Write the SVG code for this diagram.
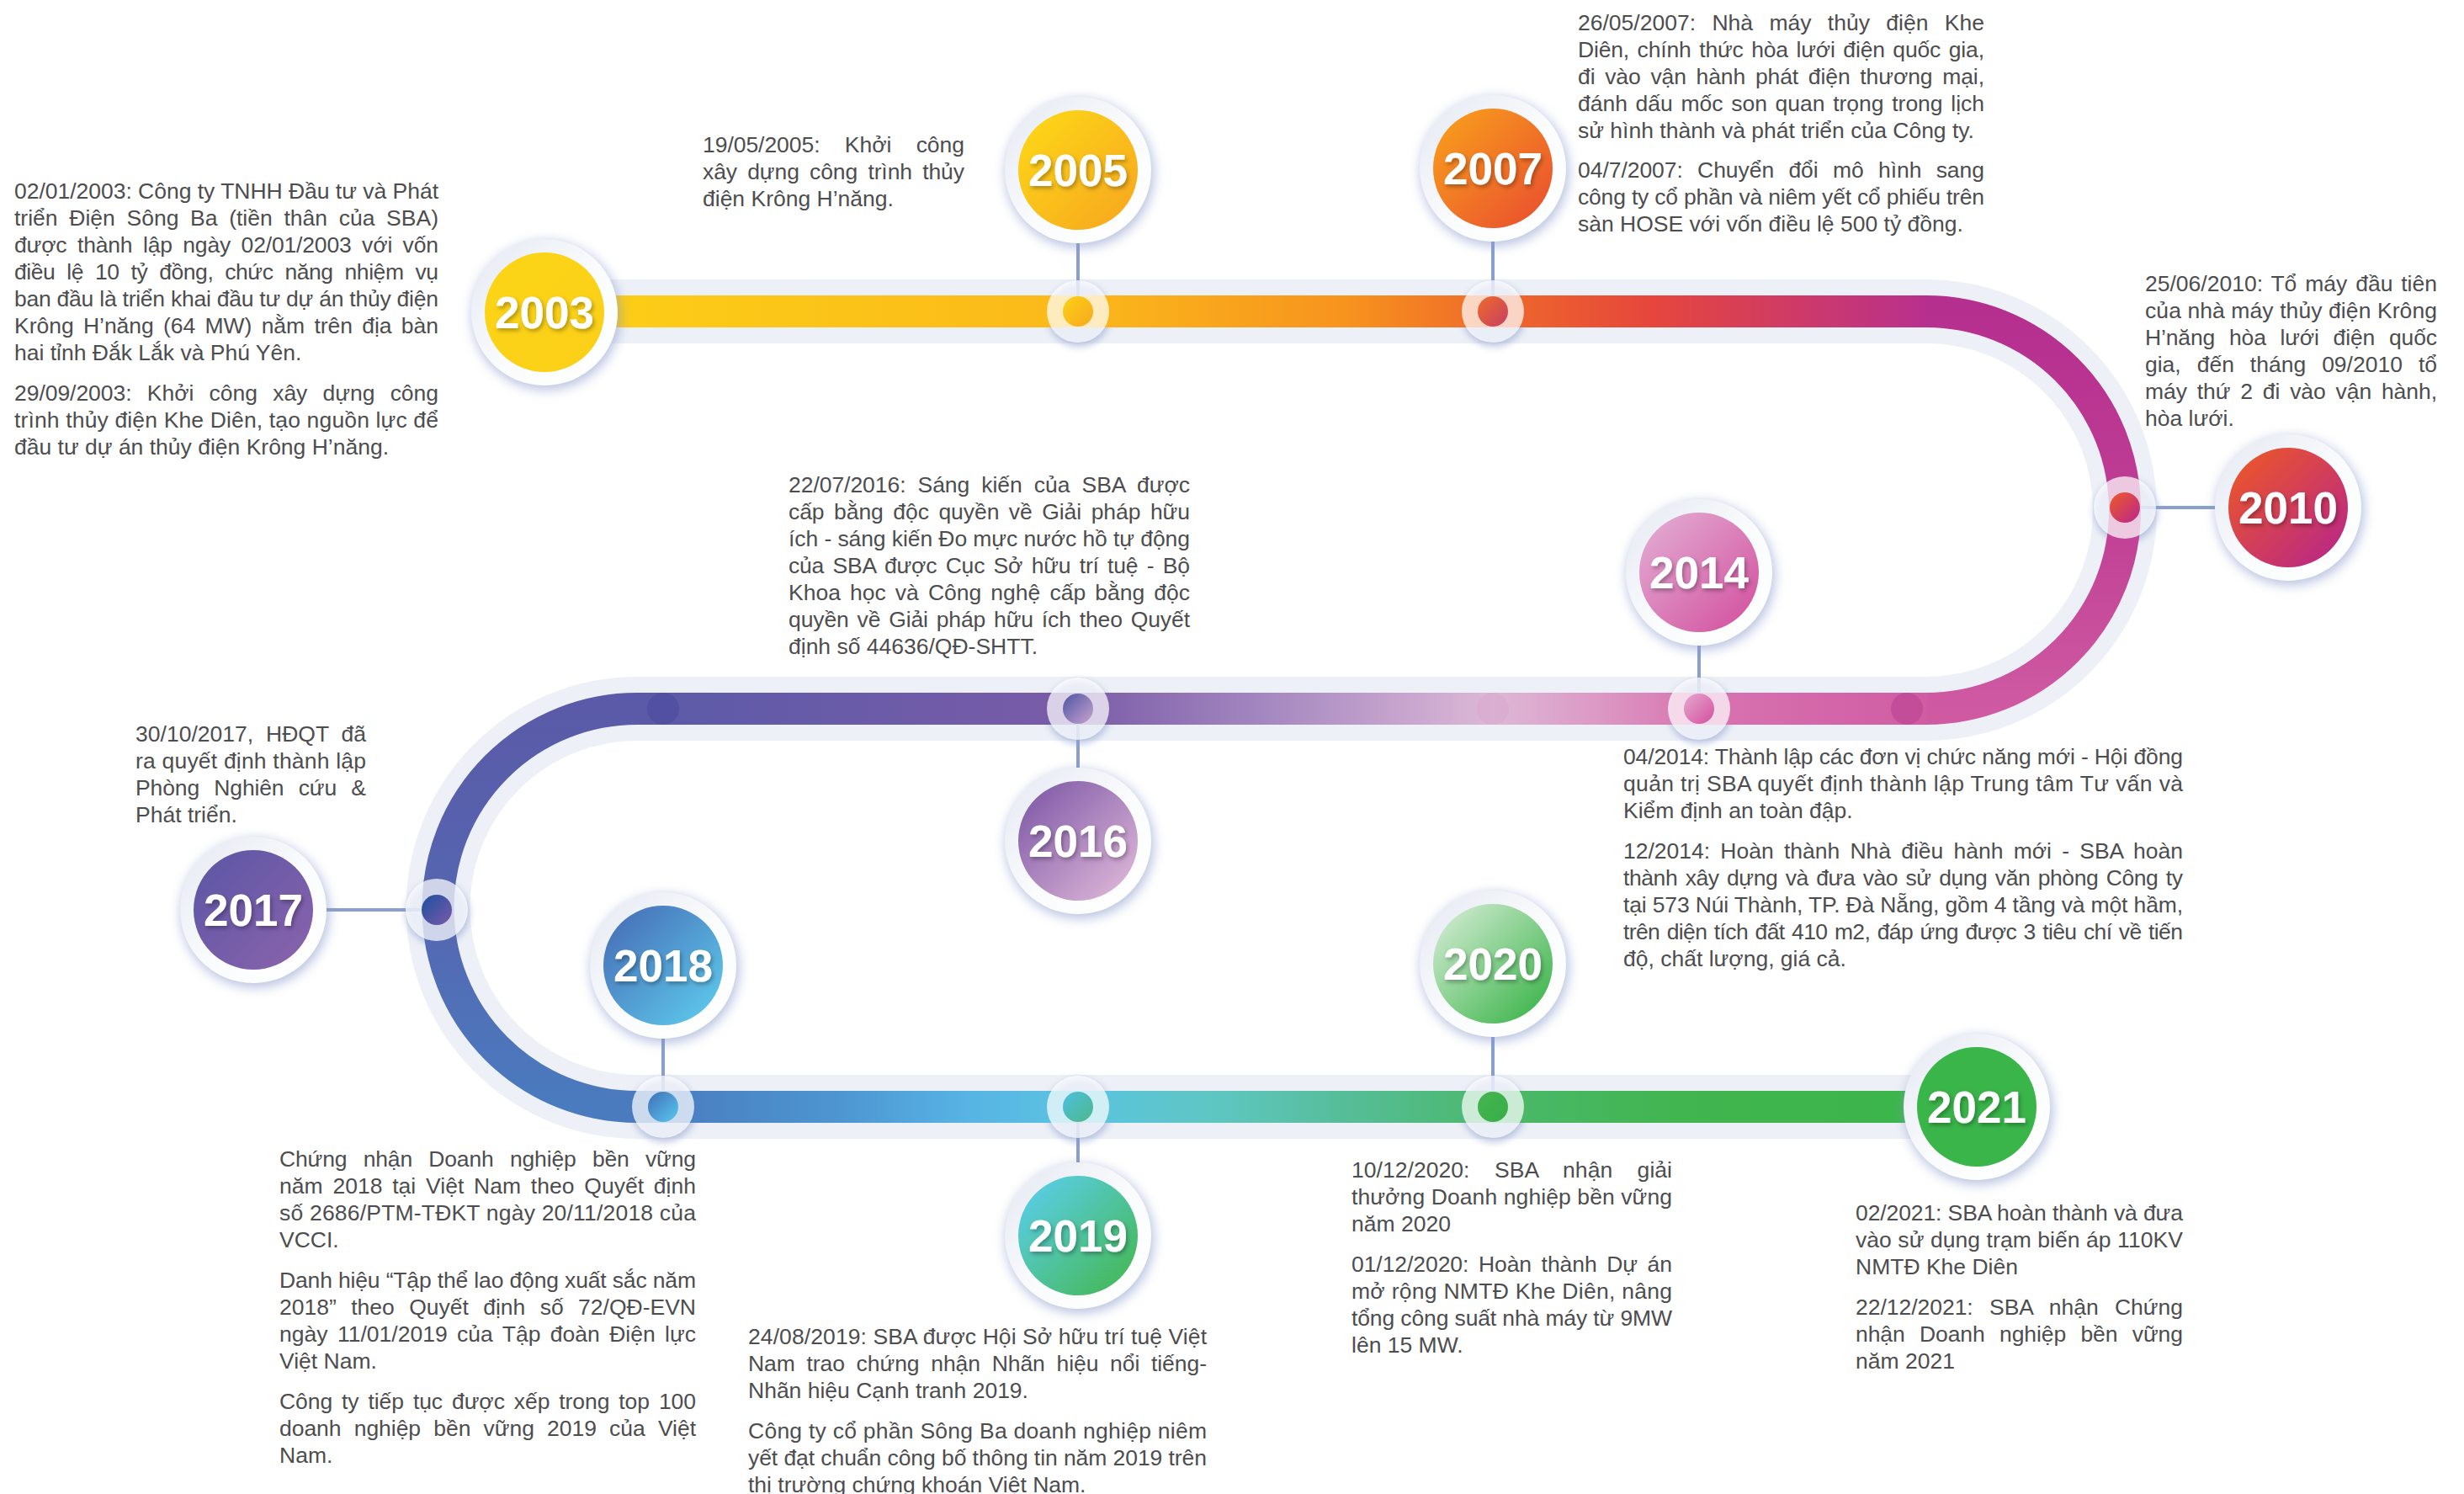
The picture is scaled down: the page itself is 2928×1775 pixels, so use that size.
<svg xmlns="http://www.w3.org/2000/svg" width="2928" height="1775" viewBox="0 0 2928 1775">
<defs>
<style>
.d{font-family:"Liberation Sans",Arial,sans-serif;font-size:26.5px;fill:#4d4d4f}
.y{font-family:"Liberation Sans",Arial,sans-serif;font-size:53px;font-weight:bold;fill:#fff;text-anchor:middle}
.cn{stroke:#8a9fcd;stroke-width:4;fill:none}
.ring{fill:url(#gRing)}
.nsh{fill:#8799cb;opacity:.6}
.dsh{fill:#8799cb;opacity:.55}
.dring{fill:#fff;fill-opacity:.72}
.halo{fill:none;stroke:#edf1f7;stroke-width:76}
.trk{fill:none;stroke-width:38}
</style>
<filter id="blur" x="-40%" y="-40%" width="180%" height="180%"><feGaussianBlur stdDeviation="7"/></filter>
<filter id="blur2" x="-50%" y="-50%" width="200%" height="200%"><feGaussianBlur stdDeviation="4"/></filter>
<filter id="tsh" x="-20%" y="-30%" width="140%" height="170%"><feDropShadow dx="2" dy="3" stdDeviation="2.5" flood-color="#000" flood-opacity=".3"/></filter>
<linearGradient id="gRing" x1="0" y1="0" x2="1" y2="1"><stop offset="0" stop-color="#e4e9f2"/><stop offset=".55" stop-color="#fbfcfd"/><stop offset="1" stop-color="#ffffff"/></linearGradient>
<linearGradient id="t1" gradientUnits="userSpaceOnUse" x1="647" y1="0" x2="2290" y2="0"><stop offset="0" stop-color="#fcd016"/><stop offset=".386" stop-color="#fbb91a"/><stop offset=".58" stop-color="#f7931e"/><stop offset=".686" stop-color="#ef6a2a"/><stop offset=".8" stop-color="#e6463c"/><stop offset="1" stop-color="#b8308e"/></linearGradient>
<linearGradient id="t2" gradientUnits="userSpaceOnUse" x1="0" y1="370" x2="0" y2="842"><stop offset="0" stop-color="#b52f8f"/><stop offset=".5" stop-color="#bf3e94"/><stop offset="1" stop-color="#cf5aa2"/></linearGradient>
<linearGradient id="t3" gradientUnits="userSpaceOnUse" x1="757" y1="0" x2="2290" y2="0"><stop offset="0" stop-color="#5a5aa8"/><stop offset=".342" stop-color="#7a5ca8"/><stop offset=".485" stop-color="#a487c0"/><stop offset=".664" stop-color="#ddb8d6"/><stop offset=".746" stop-color="#dc98c4"/><stop offset=".823" stop-color="#d874b0"/><stop offset="1" stop-color="#d05ca3"/></linearGradient>
<linearGradient id="t4" gradientUnits="userSpaceOnUse" x1="0" y1="842" x2="0" y2="1315"><stop offset="0" stop-color="#5a5aa8"/><stop offset=".5" stop-color="#5566b0"/><stop offset="1" stop-color="#4a7bbf"/></linearGradient>
<linearGradient id="t5" gradientUnits="userSpaceOnUse" x1="757" y1="0" x2="2349" y2="0"><stop offset="0" stop-color="#4a79be"/><stop offset=".153" stop-color="#4d96d2"/><stop offset=".247" stop-color="#57b4e4"/><stop offset=".33" stop-color="#5bc4e0"/><stop offset=".436" stop-color="#5ec6c0"/><stop offset=".53" stop-color="#56bd98"/><stop offset=".639" stop-color="#4bb86c"/><stop offset=".78" stop-color="#41b54f"/><stop offset="1" stop-color="#3ab54a"/></linearGradient>
<linearGradient id="g2003" x1="0" y1="0" x2="1" y2="1"><stop offset="0" stop-color="#fcd516"/><stop offset="1" stop-color="#fbcf18"/></linearGradient>
<linearGradient id="g2005" x1="0" y1="0" x2="1" y2="1"><stop offset="0" stop-color="#fdda17"/><stop offset="1" stop-color="#f7a51f"/></linearGradient>
<linearGradient id="g2007" x1="0" y1="0" x2="1" y2="1"><stop offset="0" stop-color="#f9a31b"/><stop offset="1" stop-color="#e94a30"/></linearGradient>
<linearGradient id="g2010" x1="0" y1="0" x2="1" y2="1"><stop offset="0" stop-color="#f05a22"/><stop offset="1" stop-color="#b5238f"/></linearGradient>
<linearGradient id="g2014" x1="0" y1="0" x2="1" y2="1"><stop offset="0" stop-color="#e3b2d6"/><stop offset="1" stop-color="#d24c9c"/></linearGradient>
<linearGradient id="g2016" x1="0" y1="0" x2="1" y2="1"><stop offset="0" stop-color="#7853a3"/><stop offset="1" stop-color="#e5bedc"/></linearGradient>
<linearGradient id="g2017" x1="0" y1="0" x2="1" y2="1"><stop offset="0" stop-color="#5a56a5"/><stop offset="1" stop-color="#8c63ac"/></linearGradient>
<linearGradient id="g2018" x1="0" y1="0" x2="1" y2="1"><stop offset="0" stop-color="#4568b3"/><stop offset="1" stop-color="#5fd0f0"/></linearGradient>
<linearGradient id="g2019" x1="0" y1="0" x2="1" y2="1"><stop offset="0" stop-color="#5bd0f5"/><stop offset="1" stop-color="#43b649"/></linearGradient>
<linearGradient id="g2020" x1="0" y1="0" x2="1" y2="1"><stop offset="0" stop-color="#dcefdb"/><stop offset="1" stop-color="#30b040"/></linearGradient>
<linearGradient id="g2021" x1="0" y1="0" x2="1" y2="1"><stop offset="0" stop-color="#3ab54a"/><stop offset="1" stop-color="#3ab54a"/></linearGradient>
<linearGradient id="d2005" x1="0" y1="0" x2="1" y2="1"><stop offset="0" stop-color="#fcd116"/><stop offset="1" stop-color="#f7a81f"/></linearGradient>
<linearGradient id="d2007" x1="0" y1="0" x2="1" y2="1"><stop offset="0" stop-color="#ef6a2c"/><stop offset="1" stop-color="#c64060"/></linearGradient>
<linearGradient id="d2010" x1="0" y1="0" x2="1" y2="1"><stop offset="0" stop-color="#f05a24"/><stop offset="1" stop-color="#b8268f"/></linearGradient>
<linearGradient id="d2014" x1="0" y1="0" x2="1" y2="1"><stop offset="0" stop-color="#e6a8cf"/><stop offset="1" stop-color="#d4509f"/></linearGradient>
<linearGradient id="d2016" x1="0" y1="0" x2="1" y2="1"><stop offset="0" stop-color="#4d55a3"/><stop offset="1" stop-color="#c9a3cf"/></linearGradient>
<linearGradient id="d2017" x1="0" y1="0" x2="1" y2="1"><stop offset="0" stop-color="#1b4fa0"/><stop offset="1" stop-color="#7b5aa8"/></linearGradient>
<linearGradient id="d2018" x1="0" y1="0" x2="1" y2="1"><stop offset="0" stop-color="#3f6fb8"/><stop offset="1" stop-color="#5bc8ef"/></linearGradient>
<linearGradient id="d2019" x1="0" y1="0" x2="1" y2="1"><stop offset="0" stop-color="#4cc0e0"/><stop offset="1" stop-color="#4db88a"/></linearGradient>
<linearGradient id="d2020" x1="0" y1="0" x2="1" y2="1"><stop offset="0" stop-color="#44b452"/><stop offset="1" stop-color="#38ae46"/></linearGradient>
</defs>
<rect width="2928" height="1775" fill="#ffffff"/>

<g id="track">
<path class="halo" d="M647 370 H2289 A236 236 0 0 1 2289 842 H757 A236 236 0 0 0 757 1315 H2349"/>
<circle class="dsh" cx="1282" cy="374" r="38" filter="url(#blur2)"/>
<circle class="dsh" cx="1775" cy="374" r="38" filter="url(#blur2)"/>
<circle class="dsh" cx="2526" cy="607" r="38" filter="url(#blur2)"/>
<circle class="dsh" cx="2020" cy="846" r="38" filter="url(#blur2)"/>
<circle class="dsh" cx="1282" cy="846" r="38" filter="url(#blur2)"/>
<circle class="dsh" cx="520" cy="1085" r="38" filter="url(#blur2)"/>
<circle class="dsh" cx="789" cy="1319" r="38" filter="url(#blur2)"/>
<circle class="dsh" cx="1282" cy="1319" r="38" filter="url(#blur2)"/>
<circle class="dsh" cx="1775" cy="1319" r="38" filter="url(#blur2)"/>
<path class="trk" stroke="url(#t1)" d="M647 370 H2290"/>
<path class="trk" stroke="url(#t2)" d="M2289 370 A236 236 0 0 1 2289 842"/>
<path class="trk" stroke="url(#t3)" d="M2290 842 H756"/>
<path class="trk" stroke="url(#t4)" d="M757 842 A236 236 0 0 0 757 1315"/>
<path class="trk" stroke="url(#t5)" d="M756 1315 H2349"/>
<circle cx="2266" cy="842" r="19" fill="#bf4796" opacity=".75"/>
<circle cx="1774" cy="842" r="19" fill="#d7a5cc" opacity=".5"/>
<circle cx="788" cy="842" r="19" fill="#4b4a9e" opacity=".6"/>
</g>

<g id="connectors">
<line class="cn" x1="1281" y1="289" x2="1281" y2="370"/>
<line class="cn" x1="1774" y1="287" x2="1774" y2="370"/>
<line class="cn" x1="2525" y1="603" x2="2632" y2="603"/>
<line class="cn" x1="2019" y1="767" x2="2019" y2="842"/>
<line class="cn" x1="1281" y1="842" x2="1281" y2="912"/>
<line class="cn" x1="388" y1="1081" x2="519" y2="1081"/>
<line class="cn" x1="788" y1="1234" x2="788" y2="1315"/>
<line class="cn" x1="1281" y1="1315" x2="1281" y2="1381"/>
<line class="cn" x1="1774" y1="1232" x2="1774" y2="1315"/>
</g>

<g id="node-2003">
<circle class="nsh" cx="649" cy="375" r="88" filter="url(#blur)"/>
<circle class="ring" cx="647" cy="371" r="87"/>
<circle cx="647" cy="371" r="71" fill="url(#g2003)"/>
<text class="y" x="647" y="390" filter="url(#tsh)">2003</text>
</g>
<g id="text-2003">
<text class="d" x="17" y="236" textLength="504" lengthAdjust="spacing">02/01/2003: Công ty TNHH Đầu tư và Phát</text>
<text class="d" x="17" y="268" word-spacing="6.3" textLength="504" lengthAdjust="spacing">triển Điện Sông Ba (tiền thân của SBA)</text>
<text class="d" x="17" y="300" word-spacing="5.3" textLength="504" lengthAdjust="spacing">được thành lập ngày 02/01/2003 với vốn</text>
<text class="d" x="17" y="332" word-spacing="7" textLength="504" lengthAdjust="spacing">điều lệ 10 tỷ đồng, chức năng nhiệm vụ</text>
<text class="d" x="17" y="364" textLength="504" lengthAdjust="spacing">ban đầu là triển khai đầu tư dự án thủy điện</text>
<text class="d" x="17" y="396" word-spacing="3.9" textLength="504" lengthAdjust="spacing">Krông H’năng (64 MW) nằm trên địa bàn</text>
<text class="d" x="17" y="428">hai tỉnh Đắk Lắk và Phú Yên.</text>
<text class="d" x="17" y="476" word-spacing="11" textLength="504" lengthAdjust="spacing">29/09/2003: Khởi công xây dựng công</text>
<text class="d" x="17" y="508" textLength="504" lengthAdjust="spacing">trình thủy điện Khe Diên, tạo nguồn lực để</text>
<text class="d" x="17" y="540">đầu tư dự án thủy điện Krông H’năng.</text>
</g>

<g id="node-2005">
<circle class="nsh" cx="1283" cy="206" r="88" filter="url(#blur)"/>
<circle class="ring" cx="1281" cy="202" r="87"/>
<circle cx="1281" cy="202" r="71" fill="url(#g2005)"/>
<text class="y" x="1281" y="221" filter="url(#tsh)">2005</text>
<circle class="dring" cx="1281" cy="370" r="37"/>
<circle cx="1281" cy="370" r="18" fill="url(#d2005)"/>
</g>
<g id="text-2005">
<text class="d" x="835" y="181" word-spacing="22" textLength="311" lengthAdjust="spacing">19/05/2005: Khởi công</text>
<text class="d" x="835" y="213" word-spacing="5" textLength="311" lengthAdjust="spacing">xây dựng công trình thủy</text>
<text class="d" x="835" y="245">điện Krông H’năng.</text>
</g>

<g id="node-2007">
<circle class="nsh" cx="1776" cy="204" r="88" filter="url(#blur)"/>
<circle class="ring" cx="1774" cy="200" r="87"/>
<circle cx="1774" cy="200" r="71" fill="url(#g2007)"/>
<text class="y" x="1774" y="219" filter="url(#tsh)">2007</text>
<circle class="dring" cx="1774" cy="370" r="37"/>
<circle cx="1774" cy="370" r="18" fill="url(#d2007)"/>
</g>
<g id="text-2007">
<text class="d" x="1875" y="36" word-spacing="12" textLength="483" lengthAdjust="spacing">26/05/2007: Nhà máy thủy điện Khe</text>
<text class="d" x="1875" y="68" word-spacing="2.4" textLength="483" lengthAdjust="spacing">Diên, chính thức hòa lưới điện quốc gia,</text>
<text class="d" x="1875" y="100" word-spacing="4.5" textLength="483" lengthAdjust="spacing">đi vào vận hành phát điện thương mại,</text>
<text class="d" x="1875" y="132" word-spacing="2.3" textLength="483" lengthAdjust="spacing">đánh dấu mốc son quan trọng trong lịch</text>
<text class="d" x="1875" y="164">sử hình thành và phát triển của Công ty.</text>
<text class="d" x="1875" y="211" word-spacing="10" textLength="483" lengthAdjust="spacing">04/7/2007: Chuyển đổi mô hình sang</text>
<text class="d" x="1875" y="243" textLength="483" lengthAdjust="spacing">công ty cổ phần và niêm yết cổ phiếu trên</text>
<text class="d" x="1875" y="275">sàn HOSE với vốn điều lệ 500 tỷ đồng.</text>
</g>

<g id="node-2010">
<circle class="nsh" cx="2721" cy="607" r="88" filter="url(#blur)"/>
<circle class="ring" cx="2719" cy="603" r="87"/>
<circle cx="2719" cy="603" r="71" fill="url(#g2010)"/>
<text class="y" x="2719" y="622" filter="url(#tsh)">2010</text>
<circle class="dring" cx="2525" cy="603" r="37"/>
<circle cx="2525" cy="603" r="18" fill="url(#d2010)"/>
</g>
<g id="text-2010">
<text class="d" x="2549" y="346" word-spacing="2.5" textLength="347" lengthAdjust="spacing">25/06/2010: Tổ máy đầu tiên</text>
<text class="d" x="2549" y="378" textLength="347" lengthAdjust="spacing">của nhà máy thủy điện Krông</text>
<text class="d" x="2549" y="410" word-spacing="9.5" textLength="347" lengthAdjust="spacing">H’năng hòa lưới điện quốc</text>
<text class="d" x="2549" y="442" word-spacing="11.6" textLength="347" lengthAdjust="spacing">gia, đến tháng 09/2010 tổ</text>
<text class="d" x="2549" y="474" word-spacing="4.6" textLength="347" lengthAdjust="spacing">máy thứ 2 đi vào vận hành,</text>
<text class="d" x="2549" y="506">hòa lưới.</text>
</g>

<g id="node-2014">
<circle class="nsh" cx="2021" cy="684" r="88" filter="url(#blur)"/>
<circle class="ring" cx="2019" cy="680" r="87"/>
<circle cx="2019" cy="680" r="71" fill="url(#g2014)"/>
<text class="y" x="2019" y="699" filter="url(#tsh)">2014</text>
<circle class="dring" cx="2019" cy="842" r="37"/>
<circle cx="2019" cy="842" r="18" fill="url(#d2014)"/>
</g>
<g id="text-2014">
<text class="d" x="1929" y="908" textLength="665" lengthAdjust="spacing">04/2014: Thành lập các đơn vị chức năng mới - Hội đồng</text>
<text class="d" x="1929" y="940" textLength="665" lengthAdjust="spacing">quản trị SBA quyết định thành lập Trung tâm Tư vấn và</text>
<text class="d" x="1929" y="972">Kiểm định an toàn đập.</text>
<text class="d" x="1929" y="1020" word-spacing="4.9" textLength="665" lengthAdjust="spacing">12/2014: Hoàn thành Nhà điều hành mới - SBA hoàn</text>
<text class="d" x="1929" y="1052" word-spacing="2.5" textLength="665" lengthAdjust="spacing">thành xây dựng và đưa vào sử dụng văn phòng Công ty</text>
<text class="d" x="1929" y="1084" textLength="665" lengthAdjust="spacing">tại 573 Núi Thành, TP. Đà Nẵng, gồm 4 tầng và một hầm,</text>
<text class="d" x="1929" y="1116" word-spacing="1.7" textLength="665" lengthAdjust="spacing">trên diện tích đất 410 m2, đáp ứng được 3 tiêu chí về tiến</text>
<text class="d" x="1929" y="1148">độ, chất lượng, giá cả.</text>
</g>

<g id="node-2016">
<circle class="nsh" cx="1283" cy="1003" r="88" filter="url(#blur)"/>
<circle class="ring" cx="1281" cy="999" r="87"/>
<circle cx="1281" cy="999" r="71" fill="url(#g2016)"/>
<text class="y" x="1281" y="1018" filter="url(#tsh)">2016</text>
<circle class="dring" cx="1281" cy="842" r="37"/>
<circle cx="1281" cy="842" r="18" fill="url(#d2016)"/>
</g>
<g id="text-2016">
<text class="d" x="937" y="585" word-spacing="6.8" textLength="477" lengthAdjust="spacing">22/07/2016: Sáng kiến của SBA được</text>
<text class="d" x="937" y="617" word-spacing="4.2" textLength="477" lengthAdjust="spacing">cấp bằng độc quyền về Giải pháp hữu</text>
<text class="d" x="937" y="649" textLength="477" lengthAdjust="spacing">ích - sáng kiến Đo mực nước hồ tự động</text>
<text class="d" x="937" y="681" word-spacing="3.2" textLength="477" lengthAdjust="spacing">của SBA được Cục Sở hữu trí tuệ - Bộ</text>
<text class="d" x="937" y="713" word-spacing="3.7" textLength="477" lengthAdjust="spacing">Khoa học và Công nghệ cấp bằng độc</text>
<text class="d" x="937" y="745" word-spacing="2.6" textLength="477" lengthAdjust="spacing">quyền về Giải pháp hữu ích theo Quyết</text>
<text class="d" x="937" y="777">định số 44636/QĐ-SHTT.</text>
</g>

<g id="node-2017">
<circle class="nsh" cx="303" cy="1085" r="88" filter="url(#blur)"/>
<circle class="ring" cx="301" cy="1081" r="87"/>
<circle cx="301" cy="1081" r="71" fill="url(#g2017)"/>
<text class="y" x="301" y="1100" filter="url(#tsh)">2017</text>
<circle class="dring" cx="519" cy="1081" r="37"/>
<circle cx="519" cy="1081" r="18" fill="url(#d2017)"/>
</g>
<g id="text-2017">
<text class="d" x="161" y="881" word-spacing="7.5" textLength="274" lengthAdjust="spacing">30/10/2017, HĐQT đã</text>
<text class="d" x="161" y="913" textLength="274" lengthAdjust="spacing">ra quyết định thành lập</text>
<text class="d" x="161" y="945" word-spacing="10" textLength="274" lengthAdjust="spacing">Phòng Nghiên cứu &amp;</text>
<text class="d" x="161" y="977">Phát triển.</text>
</g>

<g id="node-2018">
<circle class="nsh" cx="790" cy="1151" r="88" filter="url(#blur)"/>
<circle class="ring" cx="788" cy="1147" r="87"/>
<circle cx="788" cy="1147" r="71" fill="url(#g2018)"/>
<text class="y" x="788" y="1166" filter="url(#tsh)">2018</text>
<circle class="dring" cx="788" cy="1315" r="37"/>
<circle cx="788" cy="1315" r="18" fill="url(#d2018)"/>
</g>
<g id="text-2018">
<text class="d" x="332" y="1386" word-spacing="12" textLength="495" lengthAdjust="spacing">Chứng nhận Doanh nghiệp bền vững</text>
<text class="d" x="332" y="1418" word-spacing="4.4" textLength="495" lengthAdjust="spacing">năm 2018 tại Việt Nam theo Quyết định</text>
<text class="d" x="332" y="1450" textLength="495" lengthAdjust="spacing">số 2686/PTM-TĐKT ngày 20/11/2018 của</text>
<text class="d" x="332" y="1482">VCCI.</text>
<text class="d" x="332" y="1530" textLength="495" lengthAdjust="spacing">Danh hiệu “Tập thể lao động xuất sắc năm</text>
<text class="d" x="332" y="1562" word-spacing="10" textLength="495" lengthAdjust="spacing">2018” theo Quyết định số 72/QĐ-EVN</text>
<text class="d" x="332" y="1594" word-spacing="4" textLength="495" lengthAdjust="spacing">ngày 11/01/2019 của Tập đoàn Điện lực</text>
<text class="d" x="332" y="1626">Việt Nam.</text>
<text class="d" x="332" y="1674" word-spacing="3.7" textLength="495" lengthAdjust="spacing">Công ty tiếp tục được xếp trong top 100</text>
<text class="d" x="332" y="1706" word-spacing="7.9" textLength="495" lengthAdjust="spacing">doanh nghiệp bền vững 2019 của Việt</text>
<text class="d" x="332" y="1738">Nam.</text>
</g>

<g id="node-2019">
<circle class="nsh" cx="1283" cy="1472" r="88" filter="url(#blur)"/>
<circle class="ring" cx="1281" cy="1468" r="87"/>
<circle cx="1281" cy="1468" r="71" fill="url(#g2019)"/>
<text class="y" x="1281" y="1487" filter="url(#tsh)">2019</text>
<circle class="dring" cx="1281" cy="1315" r="37"/>
<circle cx="1281" cy="1315" r="18" fill="url(#d2019)"/>
</g>
<g id="text-2019">
<text class="d" x="889" y="1597" textLength="545" lengthAdjust="spacing">24/08/2019: SBA được Hội Sở hữu trí tuệ Việt</text>
<text class="d" x="889" y="1629" word-spacing="6.4" textLength="545" lengthAdjust="spacing">Nam trao chứng nhận Nhãn hiệu nổi tiếng-</text>
<text class="d" x="889" y="1661">Nhãn hiệu Cạnh tranh 2019.</text>
<text class="d" x="889" y="1709" textLength="545" lengthAdjust="spacing">Công ty cổ phần Sông Ba doanh nghiệp niêm</text>
<text class="d" x="889" y="1741" textLength="545" lengthAdjust="spacing">yết đạt chuẩn công bố thông tin năm 2019 trên</text>
<text class="d" x="889" y="1773">thị trường chứng khoán Việt Nam.</text>
</g>

<g id="node-2020">
<circle class="nsh" cx="1776" cy="1149" r="88" filter="url(#blur)"/>
<circle class="ring" cx="1774" cy="1145" r="87"/>
<circle cx="1774" cy="1145" r="71" fill="url(#g2020)"/>
<text class="y" x="1774" y="1164" filter="url(#tsh)">2020</text>
<circle class="dring" cx="1774" cy="1315" r="37"/>
<circle cx="1774" cy="1315" r="18" fill="url(#d2020)"/>
</g>
<g id="text-2020">
<text class="d" x="1606" y="1399" word-spacing="22" textLength="381" lengthAdjust="spacing">10/12/2020: SBA nhận giải</text>
<text class="d" x="1606" y="1431" textLength="381" lengthAdjust="spacing">thưởng Doanh nghiệp bền vững</text>
<text class="d" x="1606" y="1463">năm 2020</text>
<text class="d" x="1606" y="1511" word-spacing="4.3" textLength="381" lengthAdjust="spacing">01/12/2020: Hoàn thành Dự án</text>
<text class="d" x="1606" y="1543" textLength="381" lengthAdjust="spacing">mở rộng NMTĐ Khe Diên, nâng</text>
<text class="d" x="1606" y="1575" textLength="381" lengthAdjust="spacing">tổng công suất nhà máy từ 9MW</text>
<text class="d" x="1606" y="1607">lên 15 MW.</text>
</g>

<g id="node-2021">
<circle class="nsh" cx="2351" cy="1319" r="88" filter="url(#blur)"/>
<circle class="ring" cx="2349" cy="1315" r="87"/>
<circle cx="2349" cy="1315" r="71" fill="url(#g2021)"/>
<text class="y" x="2349" y="1334" filter="url(#tsh)">2021</text>
</g>
<g id="text-2021">
<text class="d" x="2205" y="1450" textLength="389" lengthAdjust="spacing">02/2021: SBA hoàn thành và đưa</text>
<text class="d" x="2205" y="1482" textLength="389" lengthAdjust="spacing">vào sử dụng trạm biến áp 110KV</text>
<text class="d" x="2205" y="1514">NMTĐ Khe Diên</text>
<text class="d" x="2205" y="1562" word-spacing="12" textLength="389" lengthAdjust="spacing">22/12/2021: SBA nhận Chứng</text>
<text class="d" x="2205" y="1594" word-spacing="10" textLength="389" lengthAdjust="spacing">nhận Doanh nghiệp bền vững</text>
<text class="d" x="2205" y="1626">năm 2021</text>
</g>
</svg>
